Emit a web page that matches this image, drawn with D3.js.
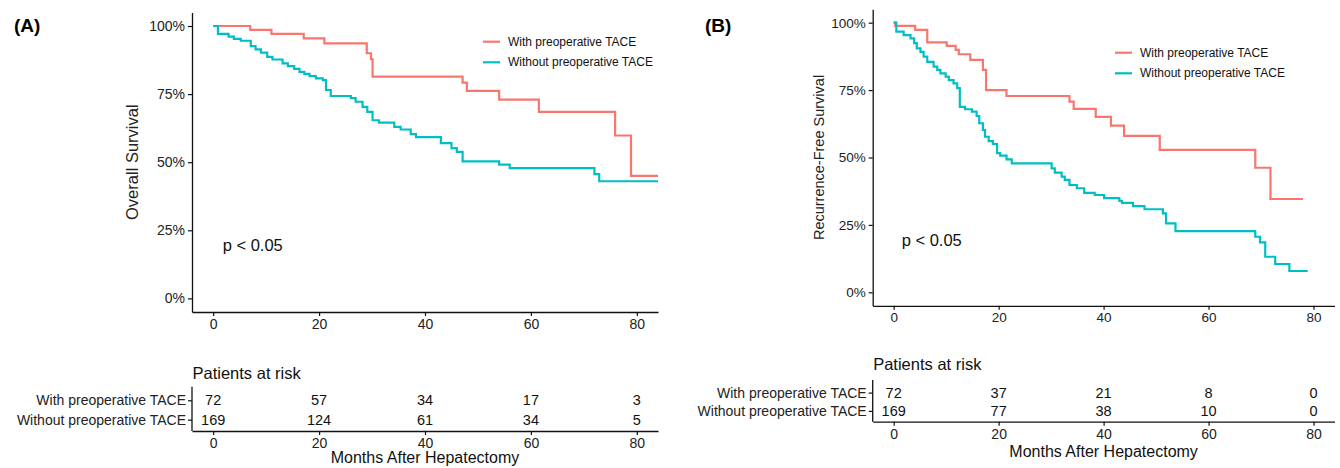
<!DOCTYPE html>
<html>
<head>
<meta charset="utf-8">
<script src="https://cdn.jsdelivr.net/npm/d3@7/dist/d3.min.js"></script>
<style>
  html, body { margin: 0; padding: 0; background: #fff; }
  svg { display: block; font-family: "Liberation Sans", Arial, Helvetica, sans-serif; }
</style>
</head>
<body>
<svg id="chart" width="1340" height="468"></svg>
<script>
// ---------------- data ----------------
const groups = ["With preoperative TACE", "Without preoperative TACE"];
const monthTicks = [0, 20, 40, 60, 80];
const survTicks = [0, 0.25, 0.5, 0.75, 1];
const survTickLabels = ["0%", "25%", "50%", "75%", "100%"];

// (A) Overall survival
const osWithTime = [0, 7.0, 11.0, 17.1, 21.0, 29.0, 29.8, 30.1, 47.1, 47.9, 54.0, 61.5, 75.9, 78.9, 84];
const osWithSurv = [1, 0.986, 0.971, 0.955, 0.936, 0.90, 0.878, 0.814, 0.792, 0.762, 0.730, 0.685, 0.598, 0.45, 0.45];
const osWithoutTime = [0, 0.9, 2.9, 3.9, 5.2, 7.1, 8.0, 9.0, 10.2, 11.2, 13.1, 14.1, 15.3, 16.3, 17.2, 18.2, 19.4, 20.7, 21.3, 22.2, 26.0, 26.9, 28.2, 29.1, 30.1, 31.3, 34.2, 35.4, 37.3, 38.3, 43.0, 45.0, 46.0, 47.1, 54.0, 56.0, 72.0, 72.9, 84];
const osWithoutSurv = [1, 0.971, 0.961, 0.953, 0.946, 0.926, 0.914, 0.902, 0.887, 0.877, 0.863, 0.853, 0.843, 0.832, 0.824, 0.816, 0.808, 0.801, 0.765, 0.743, 0.735, 0.722, 0.703, 0.685, 0.654, 0.645, 0.630, 0.620, 0.603, 0.592, 0.570, 0.552, 0.538, 0.503, 0.491, 0.478, 0.456, 0.430, 0.430];
const osRiskWith = [72, 57, 34, 17, 3];
const osRiskWithout = [169, 124, 61, 34, 5];

// (B) Recurrence-free survival
const rfsWithTime = [0, 0.3, 4.1, 6.4, 10.1, 11.8, 12.4, 14.6, 17.0, 17.6, 21.5, 33.5, 34.3, 38.5, 41.4, 43.9, 50.7, 68.9, 71.8, 78];
const rfsWithSurv = [1, 0.988, 0.973, 0.927, 0.914, 0.899, 0.883, 0.862, 0.825, 0.750, 0.728, 0.707, 0.680, 0.651, 0.618, 0.580, 0.528, 0.462, 0.346, 0.346];
const rfsWithoutTime = [0, 0.5, 1.9, 3.2, 3.9, 4.4, 5.1, 5.7, 6.4, 7.6, 8.3, 8.9, 9.9, 10.5, 11.4, 12.1, 12.6, 13.6, 14.9, 15.8, 16.3, 17.0, 17.4, 18.1, 18.9, 19.7, 20.3, 21.5, 22.5, 30.1, 30.7, 32.0, 32.6, 33.5, 34.9, 36.3, 38.3, 40.1, 43.0, 43.5, 45.6, 47.8, 51.3, 51.9, 53.7, 68.9, 69.8, 70.8, 72.7, 75.4, 78.9];
const rfsWithoutSurv = [1, 0.967, 0.954, 0.942, 0.924, 0.905, 0.892, 0.874, 0.855, 0.837, 0.825, 0.812, 0.800, 0.787, 0.775, 0.757, 0.688, 0.679, 0.670, 0.654, 0.627, 0.602, 0.577, 0.561, 0.550, 0.516, 0.507, 0.493, 0.478, 0.460, 0.444, 0.429, 0.417, 0.398, 0.386, 0.369, 0.361, 0.349, 0.339, 0.332, 0.320, 0.308, 0.293, 0.256, 0.227, 0.206, 0.185, 0.132, 0.105, 0.079, 0.079];
const rfsRiskWith = [72, 37, 21, 8, 0];
const rfsRiskWithout = [169, 77, 38, 10, 0];

const colors = ["#F8766D", "#00BFC4"];

// ---------------- layout ----------------
const panels = [
  {
    tag: "(A)", tagX: 14, tagY: 25,
    ylab: "Overall Survival", ylabX: 132, ylabSize: 16.5,
    xRange: [192, 658], yRange: [312, 12.4],
    tickSize: 14,
    curves: [[osWithTime, osWithSurv], [osWithoutTime, osWithoutSurv]],
    risk: [osRiskWith, osRiskWithout],
    legX: 483, legY: 41.7, legGap: 20.6,
    pX: 222.7, pY: 245,
    riskTitleY: 373.3, riskRows: [400.3, 419.7], riskTop: 386.7, riskAxisY: 431, monthsY: 457.5
  },
  {
    tag: "(B)", tagX: 705, tagY: 25,
    ylab: "Recurrence-Free Survival", ylabX: 819, ylabSize: 14.5,
    xRange: [872.7, 1334.5], yRange: [305.8, 9.2],
    tickSize: 13.5,
    curves: [[rfsWithTime, rfsWithSurv], [rfsWithoutTime, rfsWithoutSurv]],
    risk: [rfsRiskWith, rfsRiskWithout],
    legX: 1115, legY: 52.7, legGap: 20.6,
    pX: 901.7, pY: 240,
    riskTitleY: 364.3, riskRows: [392.6, 410.9], riskTop: 380, riskAxisY: 421.7, monthsY: 451.5
  }
];

const svg = d3.select("#chart");

panels.forEach(p => {
  const g = svg.append("g");
  const x = d3.scaleLinear().domain([-4, 84]).range(p.xRange);
  const y = d3.scaleLinear().domain([-0.05, 1.05]).range(p.yRange);

  // panel tag
  g.append("text").attr("x", p.tagX).attr("y", p.tagY)
    .attr("dominant-baseline", "central")
    .attr("font-size", 19).attr("font-weight", "bold").attr("fill", "#000")
    .text(p.tag);

  // curves
  const line = d3.line().x(d => x(d[0])).y(d => y(d[1])).curve(d3.curveStepAfter);
  p.curves.forEach((c, i) => {
    const pts = c[0].map((t, k) => [t, c[1][k]]);
    g.append("path").datum(pts)
      .attr("d", line)
      .attr("fill", "none")
      .attr("stroke", colors[i])
      .attr("stroke-width", 2.2);
  });

  // axes
  const yAxis = g.append("g")
    .attr("transform", `translate(${p.xRange[0]},0)`)
    .call(d3.axisLeft(y).tickValues(survTicks)
      .tickFormat((d, i) => survTickLabels[i]).tickSize(4).tickPadding(3).tickSizeOuter(0));
  const xAxis = g.append("g")
    .attr("transform", `translate(0,${p.yRange[0]})`)
    .call(d3.axisBottom(x).tickValues(monthTicks).tickSize(4).tickPadding(3).tickSizeOuter(0));
  [yAxis, xAxis].forEach(a => {
    a.select(".domain").attr("stroke", "#111").attr("stroke-width", 1.3);
    a.selectAll(".tick line").attr("stroke", "#111").attr("stroke-width", 1.2);
    a.selectAll(".tick text").attr("font-size", p.tickSize).attr("fill", "#222")
      .attr("font-family", "Liberation Sans, Arial, sans-serif");
  });

  // y label
  const ymid = (p.yRange[0] + p.yRange[1]) / 2;
  g.append("text")
    .attr("transform", `translate(${p.ylabX},${ymid}) rotate(-90)`)
    .attr("text-anchor", "middle").attr("dominant-baseline", "central")
    .attr("font-size", p.ylabSize).attr("fill", "#222")
    .text(p.ylab);

  // legend
  groups.forEach((name, i) => {
    const ly = p.legY + i * p.legGap;
    g.append("line").attr("x1", p.legX).attr("x2", p.legX + 17)
      .attr("y1", ly).attr("y2", ly)
      .attr("stroke", colors[i]).attr("stroke-width", 2.2);
    g.append("text").attr("x", p.legX + 25).attr("y", ly)
      .attr("dominant-baseline", "central")
      .attr("font-size", 12).attr("fill", "#111").text(name);
  });

  // p value
  g.append("text").attr("x", p.pX).attr("y", p.pY)
    .attr("dominant-baseline", "central")
    .attr("font-size", 16.5).attr("fill", "#111").text("p < 0.05");

  // risk table
  g.append("text").attr("x", p.xRange[0] + 0.5).attr("y", p.riskTitleY)
    .attr("dominant-baseline", "central")
    .attr("font-size", 16.5).attr("fill", "#111").text("Patients at risk");

  const ry = d3.scalePoint().domain(groups).range(p.riskRows);
  const rAxisL = g.append("g")
    .attr("transform", `translate(${p.xRange[0]},0)`)
    .call(d3.axisLeft(ry).tickSize(4).tickPadding(2));
  rAxisL.select(".domain").remove();
  rAxisL.selectAll(".tick line").attr("stroke", "#111").attr("stroke-width", 1.2);
  rAxisL.selectAll(".tick text").attr("font-size", 14).attr("fill", "#222")
    .attr("font-family", "Liberation Sans, Arial, sans-serif");
  g.append("line").attr("x1", p.xRange[0]).attr("x2", p.xRange[0])
    .attr("y1", p.riskTop).attr("y2", p.riskAxisY)
    .attr("stroke", "#111").attr("stroke-width", 1.3);

  const rAxisB = g.append("g")
    .attr("transform", `translate(0,${p.riskAxisY})`)
    .call(d3.axisBottom(x).tickValues(monthTicks).tickSize(4).tickPadding(3).tickSizeOuter(0));
  rAxisB.select(".domain").attr("stroke", "#111").attr("stroke-width", 1.3);
  rAxisB.selectAll(".tick line").attr("stroke", "#111").attr("stroke-width", 1.2);
  rAxisB.selectAll(".tick text").attr("font-size", 14).attr("fill", "#222")
    .attr("font-family", "Liberation Sans, Arial, sans-serif");

  p.risk.forEach((vals, i) => {
    g.selectAll(null).data(vals).enter().append("text")
      .attr("x", (d, k) => x(monthTicks[k]))
      .attr("y", ry(groups[i]))
      .attr("text-anchor", "middle").attr("dominant-baseline", "central")
      .attr("font-size", 14.5).attr("fill", "#111")
      .text(d => d);
  });

  g.append("text")
    .attr("x", (p.xRange[0] + p.xRange[1]) / 2).attr("y", p.monthsY)
    .attr("text-anchor", "middle").attr("dominant-baseline", "central")
    .attr("font-size", 16).attr("fill", "#111").text("Months After Hepatectomy");
});
</script>
</body>
</html>
